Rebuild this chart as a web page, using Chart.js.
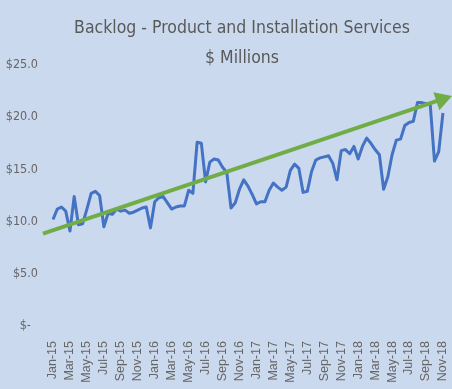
<!DOCTYPE html>
<html>
<head>
<meta charset="utf-8">
<script src="https://cdn.jsdelivr.net/npm/chart.js@4.4.1/dist/chart.umd.min.js"></script>
<style>
  body { margin: 0; background: #cbd9ee; }
  #wrap { width: 452px; height: 389px; position: relative; }
</style>
</head>
<body>
<div id="wrap"><canvas id="myChart"></canvas></div>
<script>
// tick labels on the x axis, one every two months from Jan-15
let monthLabels = ['Jan-15', 'Mar-15', 'May-15', 'Jul-15', 'Sep-15', 'Nov-15',
    'Jan-16', 'Mar-16', 'May-16', 'Jul-16', 'Sep-16', 'Nov-16',
    'Jan-17', 'Mar-17', 'May-17', 'Jul-17', 'Sep-17', 'Nov-17',
    'Jan-18', 'Mar-18', 'May-18', 'Jul-18', 'Sep-18', 'Nov-18'];

let backlog = [10.2, 11.2, 11.4, 11.0, 9.1, 12.4, 9.7, 9.8, 11.2, 12.7,
    12.9, 12.5, 9.5, 10.8, 10.7, 11.2, 11.0, 11.1, 10.8, 10.9,
    11.1, 11.3, 11.4, 9.4, 11.9, 12.3, 12.4, 11.8, 11.2, 11.4,
    11.5, 11.5, 13.0, 12.7, 17.6, 17.5, 13.8, 15.7, 16.0, 15.9,
    15.2, 14.7, 11.3, 11.8, 13.1, 14.0, 13.4, 12.6, 11.7, 11.9,
    11.9, 13.0, 13.7, 13.3, 13.0, 13.3, 14.9, 15.5, 15.1, 12.8,
    12.9, 14.8, 15.9, 16.1, 16.2, 16.3, 15.6, 14.0, 16.8, 16.9,
    16.5, 17.2, 16.0, 17.2, 18.0, 17.5, 16.9, 16.4, 13.1, 14.3,
    16.4, 17.8, 17.9, 19.2, 19.5, 19.6, 21.4, 21.4, 21.3, 21.2,
    15.8, 16.7, 20.4];

// trend arrow: start and end (months after Jan-15, $ millions)
let trendMonths = [-1.18, 45.84];
let trendValues = [8.84, 21.7];

let yTicks = [0, 5, 10, 15, 20, 25];

let backlogPoints = backlog.map((v, i) => ({x: i / 2, y: v}));
let trendPoints = trendMonths.map((m, i) => ({x: m, y: trendValues[i]}));

let grey = '#666666';
let narrow = "'Liberation Sans Narrow', 'DejaVu Sans Condensed', sans-serif";

new Chart('myChart', {
    type: 'line',
    data: {
        datasets: [{
            data: trendPoints,
            borderColor: '#70ad47',
            backgroundColor: '#70ad47',
            borderWidth: 4,
            pointRadius: [0, 11],
            pointStyle: 'triangle',
            pointRotation: 71.4,
            pointBorderWidth: 0,
            clip: false
        }, {
            data: backlogPoints,
            borderColor: '#4472c4',
            borderWidth: 3,
            pointRadius: 0,
            tension: 0,
            borderJoinStyle: 'round',
            clip: false
        }]
    },
    options: {
        responsive: true,
        maintainAspectRatio: false,
        animation: false,
        layout: {padding: 0},
        plugins: {
            legend: {display: false},
            tooltip: {enabled: false},
            title: {
                display: true,
                fullSize: false,
                text: ['Backlog - Product and Installation Services', '$ Millions'],
                color: '#595959',
                font: {family: narrow, size: 17.5, weight: 'normal', lineHeight: '30px'},
                padding: {top: 13, bottom: -8}
            }
        },
        scales: {
            x: {
                type: 'linear',
                bounds: 'data',
                min: -1.18,
                max: 45.77,
                grid: {display: false, drawTicks: false},
                border: {display: false},
                afterBuildTicks: scale => {
                    scale.ticks = monthLabels.map((l, i) => ({value: i * 2}));
                },
                afterFit: scale => {
                    scale.height = 63;
                    scale.paddingLeft = 0;
                    scale.paddingRight = 0;
                },
                ticks: {
                    autoSkip: false,
                    minRotation: 90,
                    maxRotation: 90,
                    padding: 15,
                    color: grey,
                    font: {family: "'Liberation Sans', sans-serif", size: 12.5},
                    callback: v => monthLabels[v / 2]
                }
            },
            y: {
                min: 0,
                max: 25,
                grid: {display: false, drawTicks: false},
                border: {display: false},
                afterBuildTicks: scale => {
                    scale.ticks = yTicks.map(v => ({value: v}));
                },
                afterFit: scale => { scale.width = 43; },
                ticks: {
                    padding: 5,
                    color: grey,
                    font: {family: narrow, size: 12.5},
                    callback: v => v === 0 ? '$-  ' : '$' + v.toFixed(1)
                }
            }
        }
    }
});
</script>
</body>
</html>
